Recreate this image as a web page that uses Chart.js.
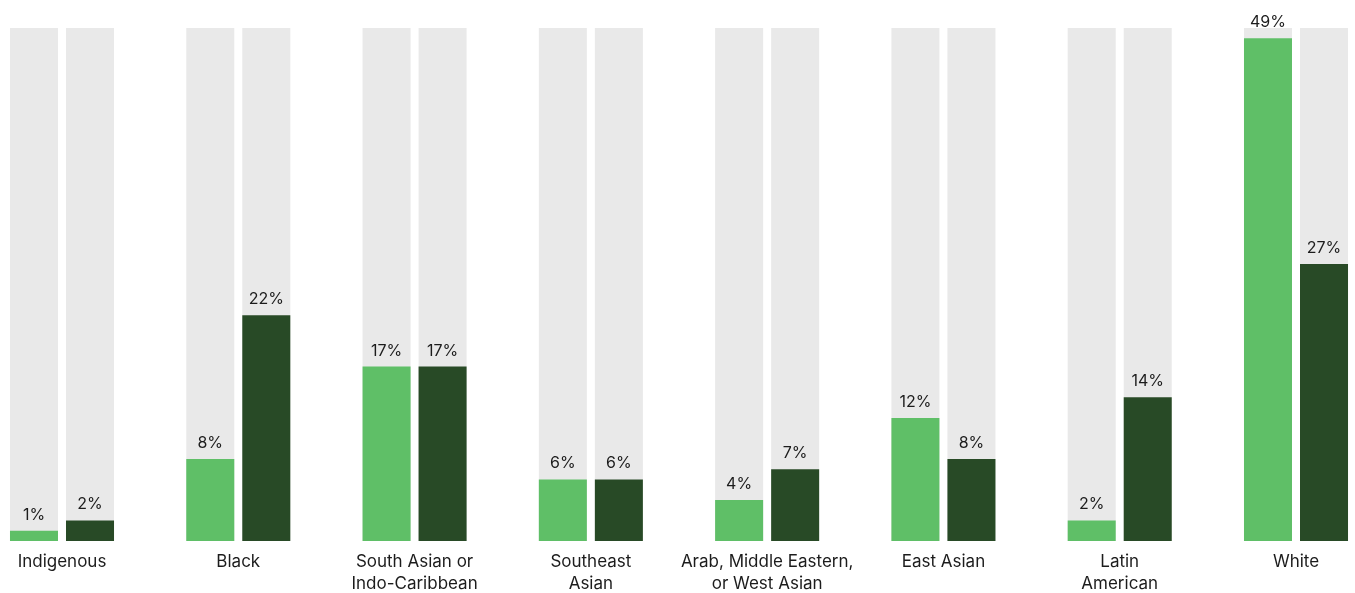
<!DOCTYPE html>
<html>
<head>
<meta charset="utf-8">
<script src="https://cdn.jsdelivr.net/npm/chart.js@4/dist/chart.umd.min.js"></script>
<style>
  html, body { margin: 0; padding: 0; background: #ffffff; }
  #wrap { width: 1355px; height: 593px; position: relative; }
</style>
</head>
<body>
<div id="wrap"><canvas id="chart" width="1355" height="593"></canvas></div>
<script>
// Category labels (multi-line where the label wraps)
const categories = [
  'Indigenous',
  'Black',
  ['South Asian or', 'Indo-Caribbean'],
  ['Southeast', 'Asian'],
  ['Arab, Middle Eastern,', 'or West Asian'],
  'East Asian',
  ['Latin', 'American'],
  'White'
];

// Shares in percent, two series per group
const seriesA = [1, 8, 17, 6, 4, 12, 2, 49];
const seriesB = [2, 22, 17, 6, 7, 8, 14, 27];

// Upper end of the value axis (top of the grey tracks)
const axisMax = 50;

const LIGHT = '#5fbf67';
const DARK = '#284a26';
const TRACK = '#e9e9e9';
const TEXT = '#1c1c1c';
const FONT = 'Inter, "Noto Sans", sans-serif';

// Grey full-height track behind every bar
const trackPlugin = {
  id: 'tracks',
  beforeDatasetsDraw(chart) {
    const ctx = chart.ctx;
    const y = chart.scales.y;
    const top = y.getPixelForValue(axisMax);
    const bottom = y.getPixelForValue(0);
    ctx.save();
    ctx.fillStyle = TRACK;
    chart.data.datasets.forEach((ds, i) => {
      const meta = chart.getDatasetMeta(i);
      meta.data.forEach(bar => {
        ctx.fillRect(bar.x - bar.width / 2, top, bar.width, bottom - top);
      });
    });
    ctx.restore();
  }
};

// Percentage label above each bar
const valueLabelPlugin = {
  id: 'valueLabels',
  afterDatasetsDraw(chart) {
    const ctx = chart.ctx;
    ctx.save();
    ctx.font = '16px ' + FONT;
    ctx.fillStyle = TEXT;
    ctx.textAlign = 'center';
    ctx.textBaseline = 'alphabetic';
    chart.data.datasets.forEach((ds, i) => {
      const meta = chart.getDatasetMeta(i);
      meta.data.forEach((bar, j) => {
        ctx.fillText(ds.data[j] + '%', bar.x, bar.y - 11);
      });
    });
    ctx.restore();
  }
};

new Chart(document.getElementById('chart'), {
  type: 'bar',
  data: {
    labels: categories,
    datasets: [
      { label: 'A', data: seriesA, backgroundColor: LIGHT, borderWidth: 0, clip: false },
      { label: 'B', data: seriesB, backgroundColor: DARK, borderWidth: 0, clip: false }
    ]
  },
  options: {
    responsive: false,
    animation: false,
    events: [],
    datasets: {
      bar: { categoryPercentage: 0.6356, barPercentage: 0.857 }
    },
    layout: { padding: { left: 62, right: 59, top: 28, bottom: 0 } },
    plugins: {
      legend: { display: false },
      tooltip: { enabled: false }
    },
    scales: {
      x: {
        offset: false,
        grid: { display: false, drawTicks: false },
        border: { display: false },
        ticks: {
          color: TEXT,
          font: { family: FONT, size: 17, lineHeight: 1.3 },
          padding: 10,
          maxRotation: 0,
          autoSkip: false
        },
        afterFit(scale) { scale.height = 52; }
      },
      y: {
        display: false,
        min: 0,
        max: axisMax
      }
    }
  },
  plugins: [trackPlugin, valueLabelPlugin]
});
</script>
</body>
</html>
